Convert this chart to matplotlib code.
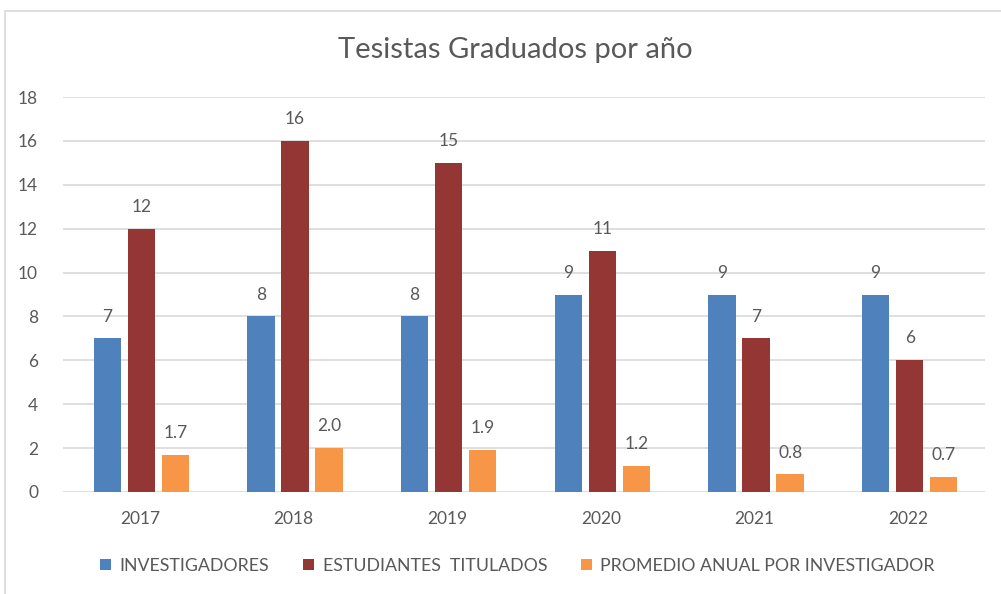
import matplotlib
matplotlib.use("Agg")
import matplotlib.pyplot as plt
import numpy as np
from matplotlib.patches import Rectangle

# Data
years = ["2017", "2018", "2019", "2020", "2021", "2022"]
investigadores = [7, 8, 8, 9, 9, 9]
estudiantes = [12, 16, 15, 11, 7, 6]
promedio = [1.7, 2.0, 1.9, 1.2, 0.8, 0.7]
series_names = ["INVESTIGADORES", "ESTUDIANTES  TITULADOS", "PROMEDIO ANUAL POR INVESTIGADOR"]
colors = ["#4f81bd", "#943634", "#f79646"]
yticks = [0, 2, 4, 6, 8, 10, 12, 14, 16, 18]

plt.rcParams["font.family"] = ["Lato", "DejaVu Sans"]
text_color = "#595959"

fig = plt.figure(figsize=(10.01, 5.94), dpi=100)
W, H = 1001, 594
ax = fig.add_axes([63 / W, 1 - 492 / H, (985 - 63) / W, (492 - 97) / H])

# chart frame
fig.patches.append(Rectangle((5 / W, -0.01), 1.0, 1 - 11 / H + 0.01, transform=fig.transFigure,
                             fill=False, edgecolor="#d9d9d9", linewidth=1.2))

x = np.arange(len(years))
bw = 0.178
step = 0.222
fmt = ["{:.0f}", "{:.0f}", "{:.1f}"]
for i, (vals, c, name) in enumerate(zip([investigadores, estudiantes, promedio], colors, series_names)):
    pos = x + (i - 1) * step + 0.01
    ax.bar(pos, vals, width=bw, color=c, label=name, zorder=3)
    for p, v in zip(pos, vals):
        ax.annotate(fmt[i].format(v), (p, v), xytext=(0, 10), textcoords="offset points",
                    ha="center", va="bottom", fontsize=12.5, color=text_color)

ax.set_xlim(-0.5, len(years) - 0.5)
ax.set_ylim(0, 18)
ax.set_yticks(yticks)
ax.set_xticks(x)
ax.set_xticklabels(years)
ax.tick_params(axis="both", length=0, labelsize=12.5, labelcolor=text_color)
ax.tick_params(axis="x", pad=14)
ax.tick_params(axis="y", pad=18)
ax.grid(axis="y", color="#d9d9d9", linewidth=1.2, zorder=0)
for s in ax.spines.values():
    s.set_visible(False)

fig.text(0.515, 1 - 50 / H, "Tesistas Graduados por año", ha="center", va="center",
         fontsize=21, color=text_color)

fig.legend(loc="center", bbox_to_anchor=(0.517, 1 - 566 / H), ncol=3, frameon=False,
           fontsize=12.8, labelcolor=text_color, handlelength=0.6, handleheight=0.6,
           handletextpad=0.5, columnspacing=1.9)

fig.savefig("out.png", dpi=100)
